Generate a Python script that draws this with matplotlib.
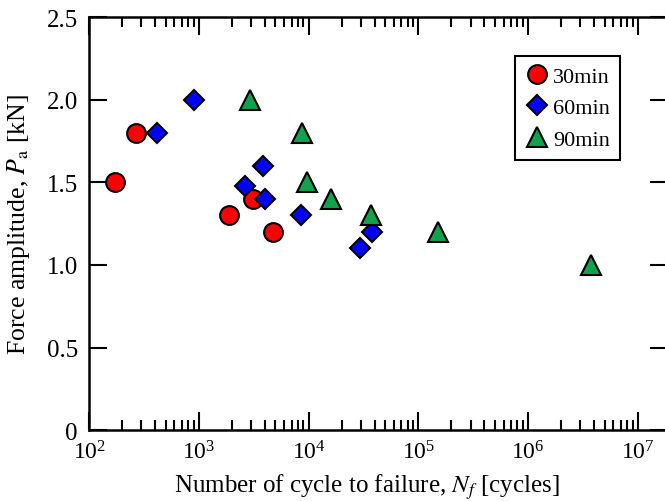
import matplotlib
matplotlib.use("Agg")
from matplotlib import pyplot as plt
from matplotlib.ticker import LogLocator, FixedLocator, FixedFormatter, NullFormatter

plt.rcParams['font.family'] = ['Liberation Serif', 'DejaVu Serif']
plt.rcParams['mathtext.fontset'] = 'stix'

# cycles to failure / force amplitude
n_30 = [171, 267, 1890, 3150, 4740]
p_30 = [1.5, 1.8, 1.3, 1.4, 1.2]

n_60 = [417, 895, 2650, 3830, 4050, 8600, 29400, 38100]
p_60 = [1.8, 2.0, 1.48, 1.6, 1.4, 1.3, 1.1, 1.2]

n_90 = [2900, 8770, 9750, 16100, 37500, 153000, 3780000]
p_90 = [2.0, 1.8, 1.5, 1.4, 1.3, 1.2, 1.0]

y_ticks = [0, 0.5, 1.0, 1.5, 2.0, 2.5]
y_labels = ['0', '0.5', '1.0', '1.5', '2.0', '2.5']

fig = plt.figure(figsize=(6.65, 5.02), dpi=100)
ax = fig.add_axes([0.134, 0.141, 0.871, 0.823])

ax.plot(n_30, p_30, 'o', ms=13.5, mfc='#ff0000', mec='black', mew=1.5, label='30min', zorder=3)
ax.plot(n_60, p_60, 'D', ms=10, mfc='#0000ff', mec='black', mew=1.5, label='60min', zorder=3)
ax.plot(n_90, p_90, '^', ms=14.5, mfc='#10a24c', mec='black', mew=1.5, label='90min', zorder=3)

ax.set_xscale('log')
ax.set_xlim(1e2, 10**7.28)
ax.set_ylim(0, 2.5)

ax.xaxis.set_major_locator(LogLocator(base=10, numticks=10))
ax.xaxis.set_minor_locator(LogLocator(base=10, subs=range(2, 10), numticks=20))
ax.xaxis.set_minor_formatter(NullFormatter())
ax.yaxis.set_major_locator(FixedLocator(y_ticks))
ax.yaxis.set_major_formatter(FixedFormatter(y_labels))

ax.tick_params(which='both', direction='in', top=True, right=True, width=1.5)
ax.tick_params(which='major', length=13)
ax.tick_params(which='minor', length=7)
ax.tick_params(axis='x', which='major', pad=7, labelsize=17)
ax.tick_params(axis='y', which='major', pad=8, labelsize=18)
for s in ax.spines.values():
    s.set_linewidth(1.8)

ax.set_xlabel('Number of cycle to failure, $N_f$ [cycles]', fontsize=18, labelpad=0)
ax.set_ylabel('Force amplitude, $P_\\mathrm{a}$ [kN]', fontsize=18.5, labelpad=2)
ax.xaxis.set_label_coords(0.48, -0.098)
ax.yaxis.set_label_coords(-0.098, 0.5)

leg = ax.legend(loc='upper left', bbox_to_anchor=(515 / 665, 1 - 57 / 502), bbox_transform=fig.transFigure,
                fontsize=16, fancybox=False, edgecolor='black', framealpha=1,
                handletextpad=0.15, handlelength=1.1, borderpad=0.45, labelspacing=0.5,
                borderaxespad=0)
leg.get_frame().set_linewidth(1.5)

plt.savefig('out.png', dpi=100)
